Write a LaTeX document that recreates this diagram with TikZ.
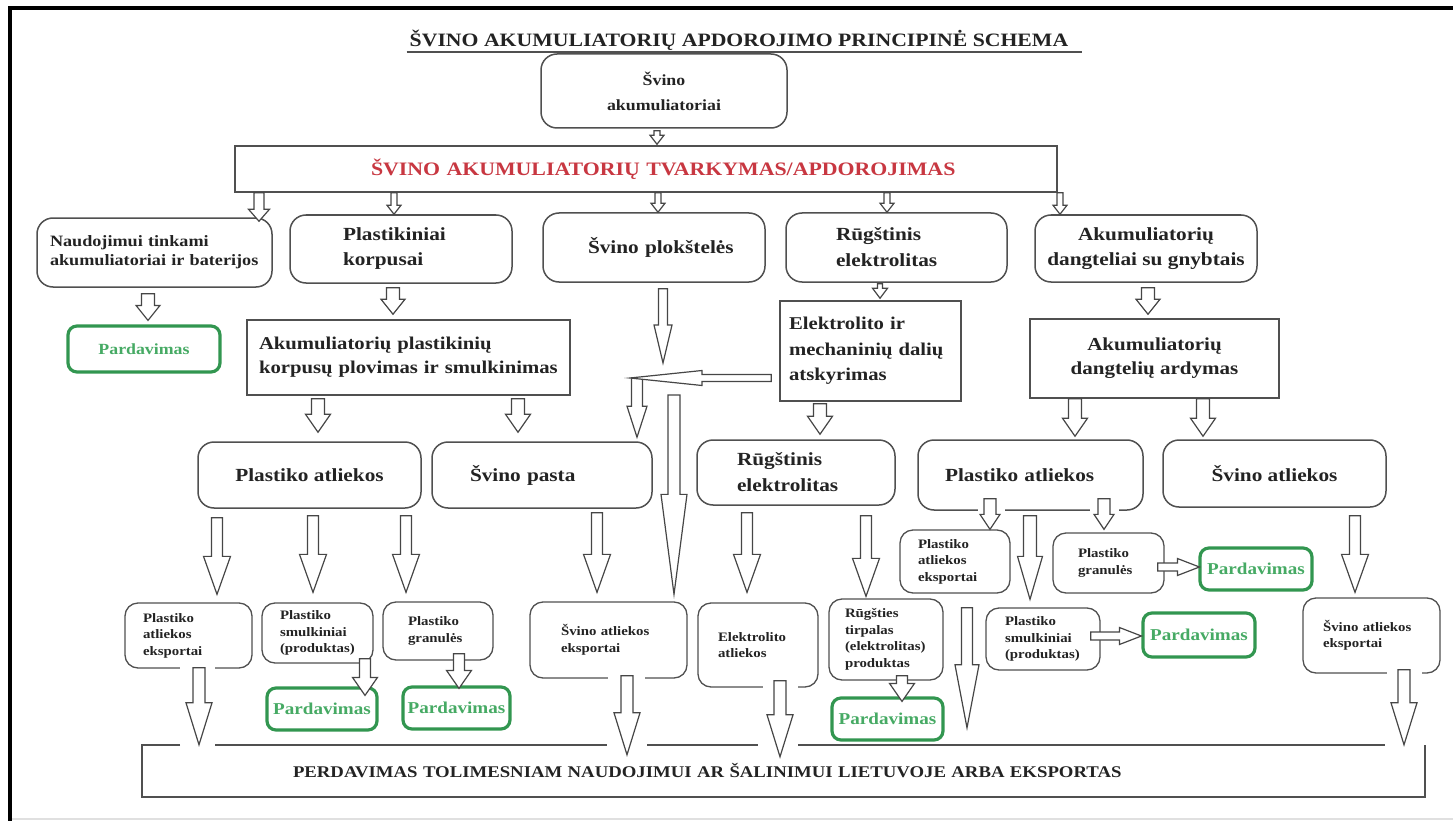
\documentclass[tikz,border=0pt]{standalone}
\usepackage{fontspec}
\setmainfont{Liberation Serif}[FakeStretch=1.15]
\usetikzlibrary{calc}

\definecolor{boxline}{RGB}{80,80,80}
\definecolor{arrline}{RGB}{70,70,70}
\definecolor{txt}{RGB}{35,35,35}
\definecolor{redtxt}{RGB}{200,55,65}
\definecolor{greenline}{RGB}{50,150,80}
\definecolor{greentxt}{RGB}{70,170,100}

\newcommand{\bft}[2]{\fontsize{#1}{#2}\selectfont\bfseries}

\tikzset{
  boxln/.style={draw=boxline, line width=1.5pt},
  rbox/.style={boxln, rounded corners=16pt, fill=white, inner xsep=0pt, inner ysep=0pt,
    text=txt, font=\bft{18.5}{25}},
  sbox/.style={boxln, fill=white, inner xsep=0pt, inner ysep=0pt, text=txt, font=\bft{18.3}{24.5}},
  mbox/.style={rbox, rounded corners=13pt, line width=1.3pt, font=\bft{12.9}{16.5}},
  sale/.style={draw=greenline, line width=3.2pt, rounded corners=9pt, fill=white,
    text=greentxt, inner sep=0pt, font=\bft{16.6}{20}},
  sz/.style n args={3}{minimum width=#1, minimum height=#2, text width=#3},
  % block arrows: half shaft width, half head width, head length
  blkstart/.store in=\blkS, blkstart=0pt,
  blkend/.store in=\blkE, blkend=0pt,
  sg/.style={blkstart=#1pt},
  eg/.style={blkend=#1pt},
  blk/.style n args={3}{draw=arrline, fill=white, line width=1.2pt, line join=miter,
    to path={
      ($(\tikztostart)!\blkS!(\tikztotarget)$) coordinate (bS)
      ($(\tikztotarget)!\blkE!(\tikztostart)$) coordinate (bT)
      ($(bS)!#1!90:(bT)$) -- ($(bT)!#3!(bS)!#1!-90:(bS)$) -- ($(bT)!#3!(bS)!#2!-90:(bS)$)
      -- (bT) -- ($(bT)!#3!(bS)!#2!90:(bS)$) -- ($(bT)!#3!(bS)!#1!90:(bS)$)
      -- ($(bS)!#1!-90:(bT)$) -- cycle}},
  tinyarr/.style={blk={3pt}{7pt}{9pt}},
  arrN/.style={blk={5pt}{10.5pt}{12pt}},
  medarr/.style={blk={6.5pt}{12pt}{15pt}},
  diaarr/.style={blk={2.5pt}{7.5pt}{10pt}},
  splarr/.style={blk={4.5pt}{9pt}{38pt}},
  midarr/.style={blk={6.5pt}{12.5pt}{18pt}},
  bigarr/.style={blk={5.5pt}{13.5pt}{38pt}},
  smarr/.style={blk={6.5pt}{12.5pt}{43pt}},
  smallarr/.style={blk={6pt}{10pt}{15pt}},
  bararr/.style={blk={6pt}{13pt}{42pt}},
  longarr/.style={blk={5.5pt}{12pt}{63pt}},
  tallarr/.style={blk={6pt}{13pt}{100pt}},
  salearr/.style={blk={5.5pt}{12.5pt}{18pt}},
  harr/.style={blk={4pt}{8.5pt}{22pt}},
  lhoriz/.style={blk={3.5pt}{7.5pt}{72pt}},
  lvert/.style={blk={5.5pt}{10pt}{31pt}},
}

\begin{document}
\begin{tikzpicture}[x=1pt,y=-1pt]
\useasboundingbox (0,0) rectangle (1453,821);

% page frame
\draw[line width=3.5pt, line join=miter] (1453,8) -- (10,8) -- (10,821);
\draw[black!12, line width=2pt] (12,819) -- (1453,819);

% title
\node[anchor=base, inner sep=0pt, text=txt, font=\bft{18.9}{22}] (title) at (739,47)
  {ŠVINO AKUMULIATORIŲ APDOROJIMO PRINCIPINĖ SCHEMA};
\draw[boxline, line width=1.4pt] ($(title.base west)+(-3,5)$) -- ($(title.base east)+(14,5)$);

% top level
\node[rbox, minimum width=246, minimum height=74, align=center, font=\bft{15.5}{25}] (B1) at (664,91)
  {Švino\\akumuliatoriai};
\node[sbox, sz={822}{46}{550}, align=left, text=redtxt, font=\bft{19}{22}] (B2) at (646,169)
  {\mbox{ŠVINO AKUMULIATORIŲ TVARKYMAS/APDOROJIMAS}};

% second row
\node[rbox, sz={235}{69}{209}, align=left, font=\bft{15.8}{19}] (N) at (154.5,252.5)
  {\mbox{Naudojimui tinkami}\\\mbox{akumuliatoriai ir baterijos}};
\node[rbox, sz={222}{68}{116}, align=left] (PK) at (401,249) {Plastikiniai\\korpusai};
\node[rbox, sz={222}{69}{132}, align=left] (SPL) at (654,247.5) {\mbox{Švino plokštelės}};
\node[rbox, sz={221}{69}{121}, align=left, font=\bft{18.5}{26}] (RE1) at (896.5,247.5)
  {Rūgštinis\\elektrolitas};
\node[rbox, minimum width=222, minimum height=67, align=center] (ADG) at (1146,248.5)
  {Akumuliatorių\\dangteliai su gnybtais};

% processing steps
\node[sale, minimum width=152, minimum height=46, font=\bft{15.5}{18}] (PD0) at (144,349) {Pardavimas};
\node[sbox, sz={323}{75}{299}, align=left, font=\bft{18}{24}] (APK) at (408.5,357.5)
  {\mbox{Akumuliatorių plastikinių}\\\mbox{korpusų plovimas ir smulkinimas}};
\node[sbox, sz={181}{100}{163}, align=left, font=\bft{18}{25.5}] (ELK) at (870.5,351)
  {\mbox{Elektrolito ir}\\\mbox{mechaninių dalių}\\atskyrimas};
\node[sbox, minimum width=249, minimum height=79, align=center, font=\bft{18.3}{24}] (ADA) at (1154.5,358.5)
  {Akumuliatorių\\dangtelių ardymas};

% third row
\node[rbox, minimum width=223, minimum height=66] (PA1) at (309.5,475) {Plastiko atliekos};
\node[rbox, sz={220}{66}{144}, align=left] (SP) at (542,475) {\mbox{Švino pasta}};
\node[rbox, sz={198}{65}{118}, align=left, font=\bft{18.5}{26}] (RE2) at (796,472.5)
  {Rūgštinis\\elektrolitas};
\node[rbox, sz={225}{70}{171}, align=left] (PA2) at (1030.5,475) {\mbox{Plastiko atliekos}};
\node[rbox, minimum width=223, minimum height=67] (SA) at (1274.5,473.5) {Švino atliekos};

% products
\node[mbox, sz={127}{65}{91}, align=left] (E1) at (188.5,635.5) {Plastiko\\atliekos\\eksportai};
\node[mbox, sz={111}{60}{75}, align=left] (SM1) at (317.5,633) {Plastiko\\smulkiniai\\(produktas)};
\node[mbox, sz={110}{58}{60}, align=left] (GR1) at (438,631) {Plastiko\\granulės};
\node[mbox, sz={157}{76}{95}, align=left] (SE1) at (608.5,640) {\mbox{Švino atliekos}\\eksportai};
\node[mbox, sz={120}{84}{80}, align=left] (EA) at (758,645) {Elektrolito\\atliekos};
\node[mbox, sz={114}{81}{82}, align=left] (RT) at (886,639.5)
  {Rūgšties\\tirpalas\\(elektrolitas)\\produktas};
\node[mbox, sz={110}{63}{74}, align=left] (E2) at (955,561.5) {Plastiko\\atliekos\\eksportai};
\node[mbox, sz={111}{60}{61}, align=left] (GR2) at (1108.5,563) {Plastiko\\granulės};
\node[mbox, sz={114}{62}{76}, align=left] (SM2) at (1043,639) {Plastiko\\smulkiniai\\(produktas)};
\node[mbox, sz={137}{75}{97}, align=left] (SE2) at (1371.5,635.5) {\mbox{Švino atliekos}\\eksportai};

% sales
\node[sale, minimum width=110, minimum height=42] (PD1) at (322,709) {Pardavimas};
\node[sale, minimum width=107, minimum height=42] (PD2) at (456.5,708) {Pardavimas};
\node[sale, minimum width=111, minimum height=42] (PD3) at (887.5,719) {Pardavimas};
\node[sale, minimum width=112, minimum height=42] (PD4) at (1256,569) {Pardavimas};
\node[sale, minimum width=112, minimum height=44] (PD5) at (1199,635) {Pardavimas};

% final destination bar, top edge broken where the arrows enter
\node[minimum width=1283, minimum height=52, text width=981, align=left, inner sep=0pt,
  text=txt, font=\bft{16.3}{20}] (BAR) at (783.5,771)
  {\mbox{PERDAVIMAS TOLIMESNIAM NAUDOJIMUI AR ŠALINIMUI LIETUVOJE ARBA EKSPORTAS}};
\draw[boxln] (BAR.north west -| 180,0) -- (BAR.north west) -- (BAR.south west)
  -- (BAR.south east) -- (BAR.north east);
\draw[boxln] (BAR.north -| 215,0) -- (BAR.north -| 607,0);
\draw[boxln] (BAR.north -| 647,0) -- (BAR.north -| 758,0);
\draw[boxln] (BAR.north -| 798,0) -- (BAR.north -| 1385,0);

% openings in box outlines around outgoing arrows
\fill[white] (E1.south -| 180,0) ++(0,-3) rectangle ++(35,6);
\fill[white] (SE1.south -| 608,0) ++(0,-3) rectangle ++(37,6);
\fill[white] (EA.south -| 763,0) ++(0,-3) rectangle ++(35,6);
\fill[white] (SE2.south -| 1387,0) ++(0,-3) rectangle ++(35,6);
\fill[white] (PA2.south -| 978,0) ++(0,-3) rectangle ++(27,6);
\fill[white] (PA2.south -| 1090,0) ++(0,-3) rectangle ++(29,6);

% free ends of the lead-plate branch
\coordinate (splend) at (663,363);
\coordinate (lcorner) at (637,378);
\coordinate (lend) at (630,378);
\coordinate (tallstart) at (674,395);

% arrows
\draw[tinyarr, sg=2, eg=1] (B1.south -| 657,0) to (B2.north -| 657,0);
\draw[arrN, eg=-4] (B2.south -| 259,0) to (N.north -| 259,0);
\draw[tinyarr] (B2.south -| 394,0) to (PK.north -| 394,0);
\draw[tinyarr] (B2.south -| 658,0) to (SPL.north -| 658,0);
\draw[tinyarr] (B2.south -| 887,0) to (RE1.north -| 887,0);
\draw[tinyarr] (B2.south -| 1060,0) to (ADG.north -| 1060,0);

\draw[medarr, sg=6, eg=4] (N.south -| 148,0) to (PD0.north -| 148,0);
\draw[medarr, sg=4, eg=5] (PK.south -| 393,0) to (APK.north -| 393,0);
\draw[splarr, sg=6] (SPL.south -| 663,0) to (splend);
\draw[diaarr, sg=1, eg=2] (RE1.south -| 880,0) to (ELK.north -| 880,0);
\draw[medarr, sg=5, eg=4] (ADG.south -| 1148,0) to (ADA.north -| 1148,0);

\draw[midarr, sg=3, eg=9] (APK.south -| 318,0) to (PA1.north -| 318,0);
\draw[midarr, sg=3, eg=9] (APK.south -| 518,0) to (SP.north -| 518,0);
\draw[midarr, sg=2, eg=5] (ELK.south -| 820,0) to (RE2.north -| 820,0);
\draw[midarr, eg=3] (ADA.south -| 1075,0) to (PA2.north -| 1075,0);
\draw[midarr, eg=3] (ADA.south -| 1203,0) to (SA.north -| 1203,0);

\draw[lvert, eg=4] (lcorner) to (SP.north -| 637,0);
\draw[lhoriz, sg=8] (ELK.west |- lcorner) to (lend);
\draw[tallarr, eg=7] (tallstart) to (SE1.north -| 674,0);

\draw[bigarr, sg=9, eg=8] (PA1.south -| 217,0) to (E1.north -| 217,0);
\draw[bigarr, sg=7, eg=10] (PA1.south -| 313,0) to (SM1.north -| 313,0);
\draw[bigarr, sg=7, eg=9] (PA1.south -| 406,0) to (GR1.north -| 406,0);
\draw[bigarr, sg=4, eg=9] (SP.south -| 597,0) to (SE1.north -| 597,0);
\draw[bigarr, sg=7, eg=10] (RE2.south -| 747,0) to (EA.north -| 747,0);
\draw[bigarr, sg=10, eg=2] (RE2.south -| 866,0) to (RT.north -| 866,0);
\draw[bigarr, sg=8, eg=5] (SA.south -| 1355,0) to (SE2.north -| 1355,0);
\draw[smarr, sg=5, eg=8] (PA2.south -| 1030,0) to (SM2.north -| 1030,0);
\draw[smallarr, sg=-12] (PA2.south -| 990,0) to (E2.north -| 990,0);
\draw[smallarr, sg=-12, eg=3] (PA2.south -| 1104,0) to (GR2.north -| 1104,0);

\draw[bararr, sg=-1] (E1.south -| 199,0) to (BAR.north -| 199,0);
\draw[bararr, sg=-3, eg=-10] (SE1.south -| 627,0) to (BAR.north -| 627,0);
\draw[bararr, sg=-7, eg=-12] (EA.south -| 780,0) to (BAR.north -| 780,0);
\draw[bararr, sg=-4] (SE2.south -| 1404,0) to (BAR.north -| 1404,0);
\draw[longarr, sg=14, eg=17] (E2.south -| 967,0) to (BAR.north -| 967,0);

\draw[salearr, sg=-5, eg=-9] (SM1.south -| 365,0) to (PD1.north -| 365,0);
\draw[salearr, sg=-7, eg=-3] (GR1.south -| 459,0) to (PD2.north -| 459,0);
\draw[salearr, sg=-5, eg=-5] (RT.south -| 902,0) to (PD3.north -| 902,0);
\draw[harr, sg=-7, eg=-1] (GR2.east |- 0,567) to (PD4.west |- 0,567);
\draw[harr, sg=-10] (SM2.east |- 0,636) to (PD5.west |- 0,636);
\end{tikzpicture}
\end{document}
